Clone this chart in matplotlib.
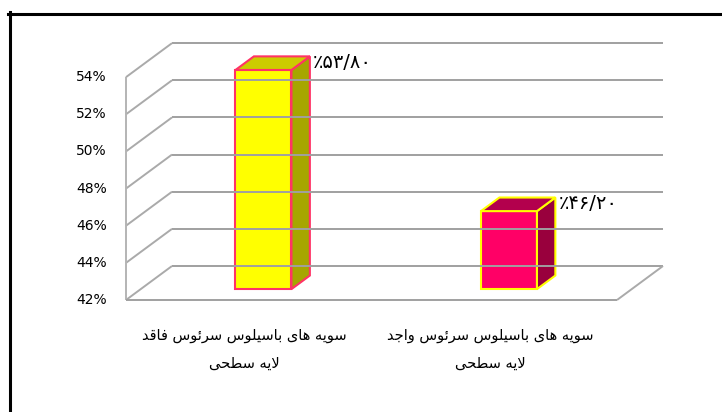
import matplotlib

matplotlib.use("Agg")
from matplotlib import pyplot as plt
from matplotlib.lines import Line2D
from matplotlib.patches import Polygon
from matplotlib.transforms import IdentityTransform

# Chart data
categories = [
    ["سویه های باسیلوس سرئوس فاقد", "لایه سطحی"],
    ["سویه های باسیلوس سرئوس واجد", "لایه سطحی"],
]
values = [53.8, 46.2]
y_ticks = [42, 44, 46, 48, 50, 52, 54]

# Bar styles: (front, top, side, edge)
bar_colors = [
    ("#FFFF00", "#CCCC00", "#A6A600", "#FF3366"),
    ("#FF0066", "#B3004D", "#99003D", "#FFFF00"),
]

# Arabic presentation forms (isolated, final, initial, medial)
FORMS = {
    "\u0627": ("\ufe8d", "\ufe8e", None, None),
    "\u0628": ("\ufe8f", "\ufe90", "\ufe91", "\ufe92"),
    "\u062c": ("\ufe9d", "\ufe9e", "\ufe9f", "\ufea0"),
    "\u062d": ("\ufea1", "\ufea2", "\ufea3", "\ufea4"),
    "\u062f": ("\ufea9", "\ufeaa", None, None),
    "\u0631": ("\ufead", "\ufeae", None, None),
    "\u0633": ("\ufeb1", "\ufeb2", "\ufeb3", "\ufeb4"),
    "\u0637": ("\ufec1", "\ufec2", "\ufec3", "\ufec4"),
    "\u0641": ("\ufed1", "\ufed2", "\ufed3", "\ufed4"),
    "\u0642": ("\ufed5", "\ufed6", "\ufed7", "\ufed8"),
    "\u0644": ("\ufedd", "\ufede", "\ufedf", "\ufee0"),
    "\u0647": ("\ufee9", "\ufeea", "\ufeeb", "\ufeec"),
    "\u0648": ("\ufeed", "\ufeee", None, None),
    "\u0626": ("\ufe89", "\ufe8a", "\ufe8b", "\ufe8c"),
    "\u06cc": ("\ufbfc", "\ufbfd", "\ufbfe", "\ufbff"),
    "\ufefb": ("\ufefb", "\ufefc", None, None),
}


def shape(text: str) -> str:
    """
    Joins Arabic letters with presentation forms and reverses for RTL display
    """
    s = text.replace("\u0644\u0627", "\ufefb")
    out = []
    for i, c in enumerate(s):
        if c not in FORMS:
            out.append(c)
            continue
        prev = s[i - 1] if i > 0 else ""
        nxt = s[i + 1] if i + 1 < len(s) else ""
        joins_prev = prev in FORMS and FORMS[prev][2] is not None
        joins_next = FORMS[c][2] is not None and nxt in FORMS
        iso, fin, ini, med = FORMS[c]
        if joins_prev and joins_next:
            out.append(med)
        elif joins_prev:
            out.append(fin)
        elif joins_next:
            out.append(ini)
        else:
            out.append(iso)
    return "".join(reversed(out))


def persian_pct(v: float) -> str:
    digits = f"{v:.2f}".replace(".", "/")
    return "\u066a" + digits.translate(str.maketrans("0123456789", "۰۱۲۳۴۵۶۷۸۹"))


W, H = 722, 412
fig = plt.figure(figsize=(W / 100, H / 100), dpi=100)
ax = fig.add_axes([126 / W, (H - 300) / H, 491 / W, 260 / H])
ax.set_xlim(-0.5, 1.5)
ax.set_ylim(42, 56)
ax.axis("off")

# Depth offset of the back wall in pixels
DX, DY = 46, 34
ident = IdentityTransform()


def to_px(x, y, d):
    px, py = ax.transData.transform((x, y))
    return (px + d * DX, py + d * DY)


def seg(p0, p1, color, lw=1.4):
    fig.add_artist(Line2D([p0[0], p1[0]], [p0[1], p1[1]], color=color,
                          lw=lw, transform=ident, solid_capstyle="butt"))


x0, x1 = -0.5, 1.5
for v in y_ticks:
    # back wall gridline and side wall diagonal
    seg(to_px(x0, v, 1), to_px(x1, v, 1), "#A0A0A0")
    seg(to_px(x0, v, 0), to_px(x0, v, 1), "#AAAAAA")
    px, py = to_px(x0, v, 0)
    fig.text(px - 19, py, f"{v}%", transform=ident, ha="right", va="center",
             fontsize=10, color="#000000")

# Front axis and floor edges
seg(to_px(x0, 42, 0), to_px(x0, 54, 0), "#B4B4B4")
seg(to_px(x0, 42, 0), to_px(x1, 42, 0), "#A0A0A0")
seg(to_px(x1, 42, 0), to_px(x1, 42, 1), "#AAAAAA")

# Bars
half_w = 0.114
d0, d1 = 0.32, 0.72
for i, v in enumerate(values):
    front, top, side, edge = bar_colors[i]
    a, b = i - half_w, i + half_w
    faces = [
        ([to_px(a, 42, d0), to_px(b, 42, d0), to_px(b, v, d0), to_px(a, v, d0)], front),
        ([to_px(b, 42, d0), to_px(b, 42, d1), to_px(b, v, d1), to_px(b, v, d0)], side),
        ([to_px(a, v, d0), to_px(b, v, d0), to_px(b, v, d1), to_px(a, v, d1)], top),
    ]
    for pts, col in faces:
        fig.add_artist(Polygon(pts, closed=True, facecolor=col, edgecolor=edge,
                               lw=1.5, transform=ident, joinstyle="miter"))
    px, py = to_px(b, v, d1)
    fig.text(px + 3, py - 6, persian_pct(v), transform=ident, ha="left",
             va="center", fontsize=14, color="#000000")

# Category labels
for i, lines in enumerate(categories):
    px, py = to_px(i, 42, 0)
    for k, line in enumerate(lines):
        fig.text(px - 4, py - 35 - 28 * k, shape(line), transform=ident,
                 ha="center", va="center", fontsize=10.5, color="#000000")

# Outer frame (top and left edges)
fig.add_artist(Line2D([9.5 / W, 9.5 / W], [0, 1 - 12 / H], color="black",
                      lw=2.2, transform=fig.transFigure))
fig.add_artist(Line2D([8 / W, 1], [1 - 13.5 / H, 1 - 13.5 / H], color="black",
                      lw=2.2, transform=fig.transFigure))

fig.savefig("out.png", dpi=100, facecolor="white")
